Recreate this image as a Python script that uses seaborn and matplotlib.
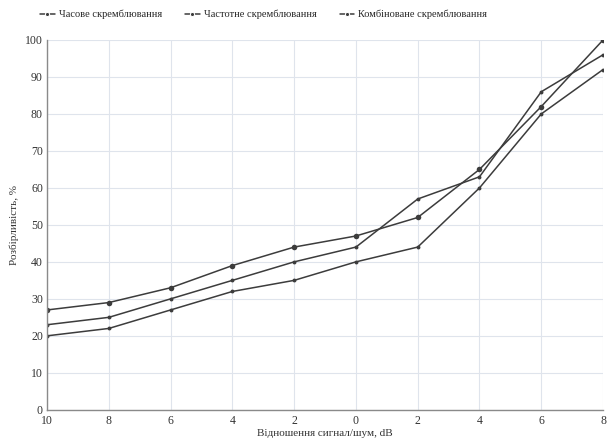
import pandas as pd
import numpy as np
import matplotlib
matplotlib.use("Agg")
import matplotlib.pyplot as plt
import seaborn as sns

# -------------------------------
# DATA
# -------------------------------

SNR = [-10, -8, -6, -4, -2, 0, 2, 4, 6, 8]
TICK_LABELS = ["10", "8", "6", "4", "2", "0", "2", "4", "6", "8"]

TIME_SCR = [27, 29, 33, 39, 44, 47, 52, 65, 82, 100]
FREQ_SCR = [23, 25, 30, 35, 40, 44, 57, 63, 86, 96]
COMB_SCR = [20, 22, 27, 32, 35, 40, 44, 60, 80, 92]

SERIES = ["Часове скремблювання", "Частотне скремблювання", "Комбіноване скремблювання"]

df = pd.DataFrame({
    "snr": SNR * 3,
    "value": TIME_SCR + FREQ_SCR + COMB_SCR,
    "series": np.repeat(SERIES, len(SNR)),
})

# -------------------------------
# PLOT
# -------------------------------

sns.set_style("whitegrid")
plt.rcParams["font.family"] = ["Liberation Serif", "DejaVu Serif"]

fig, ax = plt.subplots(figsize=(6.11, 4.44), dpi=100)
fig.subplots_adjust(left=0.077, right=0.987, top=0.91, bottom=0.077)

line_col = "#3c3c3c"
sns.lineplot(
    data=df, x="snr", y="value", hue="series", style="series",
    palette=[line_col] * 3, markers=["o", "o", "o"], dashes=False,
    linewidth=1.1, ax=ax, legend=True,
)

# marker sizes: first series has bigger dots
marker_sizes = [4, 2.8, 2.8]
for line, ms in zip(ax.lines[:3], marker_sizes):
    line.set_markersize(ms)
    line.set_markeredgewidth(0)

ax.set_xlim(-10, 8)
ax.set_ylim(0, 100)
ax.set_xticks(SNR)
ax.set_xticklabels(TICK_LABELS)
ax.set_yticks(range(0, 101, 10))
ax.tick_params(labelsize=8.5, length=0, colors="#333333")
ax.tick_params(axis="x", pad=4)
ax.tick_params(axis="y", pad=3)

ax.grid(True, color="#dfe4ec", linewidth=0.8)
for side in ["top", "right"]:
    ax.spines[side].set_visible(False)
for side in ["left", "bottom"]:
    ax.spines[side].set_color("#8a8a8a")
    ax.spines[side].set_linewidth(1.0)

ax.set_xlabel("Відношення сигнал/шум, dB", fontsize=8, color="#333333", labelpad=1)
ax.set_ylabel("Розбірливість, %", fontsize=8, color="#333333", labelpad=4)

handles, labels = ax.get_legend_handles_labels()
for h in handles:
    h.set_markersize(3)
ax.legend(handles, labels, loc="lower left", bbox_to_anchor=(-0.02, 1.045),
          ncol=3, frameon=False, fontsize=7.5, handlelength=1.4,
          handletextpad=0.4, columnspacing=2.2, borderaxespad=0)

fig.savefig("out.png", dpi=100)
